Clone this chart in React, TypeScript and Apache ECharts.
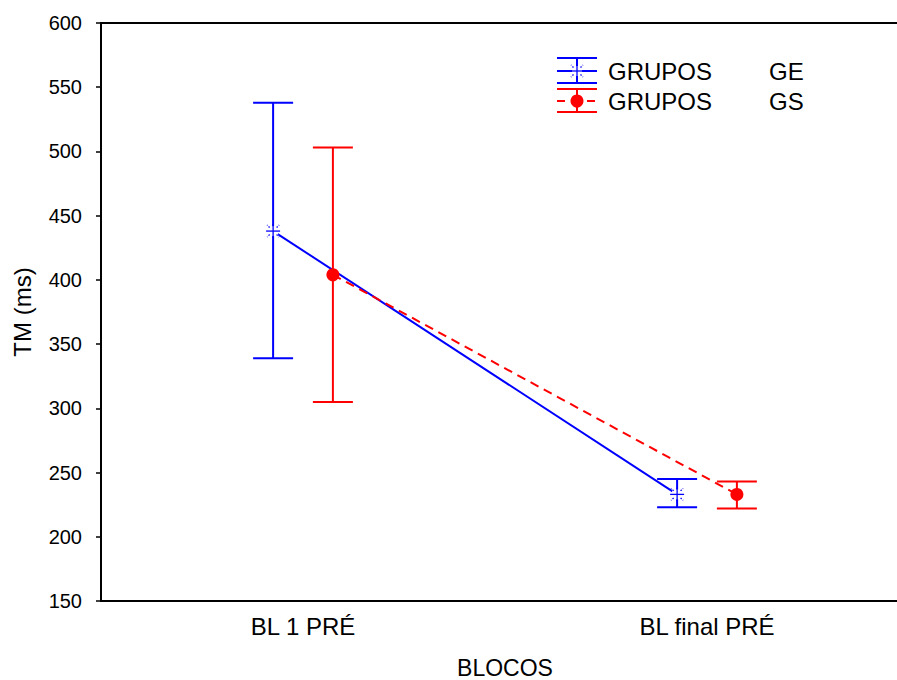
import React, { useEffect, useRef } from "react";
import * as echarts from "echarts";

const categories = ["BL 1 PRÉ", "BL final PRÉ"];
const groupNames = ["GE", "GS"];
// means and error-bar bounds, per block
const geMean = [438, 233];
const geLow = [339, 223];
const geHigh = [538, 245];
const gsMean = [404, 233];
const gsLow = [305, 222];
const gsHigh = [503, 243];
const yTicks = { min: 150, max: 600, step: 50 };
// horizontal offset of each group from the category centre (in category units)
const groupOffset = [-0.074, 0.074];

const FONT = "'Liberation Sans', Arial, sans-serif";
const BLUE = "#0000ff";
const RED = "#ff0000";
const BIG = 24;

function starShape(cx: number, cy: number, color: string) {
  const r = 7;
  const d1 = 3.5;
  const d2 = 6;
  const s = { stroke: color, lineWidth: 1.3 };
  const diag = (sx: number, sy: number) => ({
    type: "line",
    shape: { x1: cx + sx * d1, y1: cy + sy * d1, x2: cx + sx * d2, y2: cy + sy * d2 },
    style: { ...s, lineDash: [1.5, 1.5] },
  });
  return [
    { type: "line", shape: { x1: cx - r, y1: cy, x2: cx + r, y2: cy }, style: s },
    { type: "line", shape: { x1: cx, y1: cy - r, x2: cx, y2: cy + r }, style: s },
    diag(1, 1),
    diag(-1, 1),
    diag(1, -1),
    diag(-1, -1),
  ];
}

function makeErrData(offset: number, mean: number[], low: number[], high: number[]) {
  return mean.map((m, i) => [i + offset, m, low[i], high[i]]);
}

function errRender(color: string, marker: "star" | "dot") {
  return (params: any, api: any) => {
    const x = api.value(0);
    const mid = api.coord([x, api.value(1)]);
    const lo = api.coord([x, api.value(2)]);
    const hi = api.coord([x, api.value(3)]);
    const cx = mid[0];
    const half = 20;
    const st = { stroke: color, lineWidth: 2 };
    const children: any[] = [
      { type: "line", shape: { x1: cx, y1: hi[1], x2: cx, y2: lo[1] }, style: st },
      { type: "line", shape: { x1: cx - half, y1: hi[1], x2: cx + half, y2: hi[1] }, style: st },
      { type: "line", shape: { x1: cx - half, y1: lo[1], x2: cx + half, y2: lo[1] }, style: st },
    ];
    if (marker === "dot") {
      children.push({ type: "circle", shape: { cx, cy: mid[1], r: 6.5 }, style: { fill: color } });
    } else {
      children.push({ type: "rect", shape: { x: cx - 5, y: mid[1] - 5, width: 10, height: 10 }, style: { fill: "#fff" } });
      children.push(...starShape(cx, mid[1], color));
    }
    return { type: "group", children };
  };
}

export default function App() {
  const ref = useRef<HTMLDivElement>(null);
  useEffect(() => {
    if (!ref.current) return;
    const chart = echarts.init(ref.current, null, { renderer: "svg" });
    const lx = 557;
    const txt = (x: number, y: number, text: string) => ({
      type: "text",
      x,
      y,
      style: { text, fontSize: BIG, fontFamily: FONT, fill: "#000", verticalAlign: "middle" },
    });
    const legend: any[] = [
      // GE legend item
      { type: "line", shape: { x1: lx, y1: 58, x2: lx + 40, y2: 58 }, style: { stroke: BLUE, lineWidth: 2 } },
      { type: "line", shape: { x1: lx, y1: 71, x2: lx + 40, y2: 71 }, style: { stroke: BLUE, lineWidth: 2 } },
      { type: "line", shape: { x1: lx, y1: 83, x2: lx + 40, y2: 83 }, style: { stroke: BLUE, lineWidth: 2 } },
      { type: "line", shape: { x1: lx + 20, y1: 58, x2: lx + 20, y2: 83 }, style: { stroke: BLUE, lineWidth: 2 } },
      { type: "rect", shape: { x: lx + 15, y: 66, width: 10, height: 10 }, style: { fill: "#fff" } },
      ...starShape(lx + 20, 71, BLUE),
      txt(608, 71, "GRUPOS"),
      txt(769, 71, groupNames[0]),
      // GS legend item
      { type: "line", shape: { x1: lx, y1: 89, x2: lx + 40, y2: 89 }, style: { stroke: RED, lineWidth: 2 } },
      { type: "line", shape: { x1: lx, y1: 112, x2: lx + 40, y2: 112 }, style: { stroke: RED, lineWidth: 2 } },
      { type: "line", shape: { x1: lx + 20, y1: 89, x2: lx + 20, y2: 112 }, style: { stroke: RED, lineWidth: 2 } },
      { type: "line", shape: { x1: lx, y1: 101, x2: lx + 8, y2: 101 }, style: { stroke: RED, lineWidth: 2 } },
      { type: "line", shape: { x1: lx + 30, y1: 101, x2: lx + 38, y2: 101 }, style: { stroke: RED, lineWidth: 2 } },
      { type: "circle", shape: { cx: lx + 20, cy: 101, r: 6.5 }, style: { fill: RED } },
      txt(608, 101, "GRUPOS"),
      txt(769, 101, groupNames[1]),
    ];
    const option: any = {
      animation: false,
      backgroundColor: "#fff",
      grid: {
        left: 101,
        top: 23,
        bottom: 79,
        right: -12,
        outerBoundsMode: "none",
        containLabel: false,
        show: true,
        borderColor: "#000",
        borderWidth: 2,
        backgroundColor: "transparent",
      },
      xAxis: [
        {
          type: "category",
          data: categories,
          boundaryGap: true,
          axisLine: { show: true, lineStyle: { color: "#000", width: 2 } },
          axisTick: { show: false },
          axisLabel: { color: "#000", fontSize: BIG, fontFamily: FONT, margin: 13 },
          splitLine: { show: false },
          name: "BLOCOS",
          nameLocation: "middle",
          nameGap: 55,
          nameTextStyle: { color: "#000", fontSize: 23, fontFamily: FONT, lineHeight: 23 },
        },
        { type: "value", min: -0.5, max: 1.5, show: false, splitLine: { show: false } },
      ],
      yAxis: {
        type: "value",
        min: yTicks.min,
        max: yTicks.max,
        interval: yTicks.step,
        axisLine: { show: true, onZero: false, lineStyle: { color: "#000", width: 2 } },
        axisTick: { show: true, length: 5, lineStyle: { color: "#000", width: 1.5 } },
        axisLabel: { color: "#000", fontSize: 20, fontFamily: FONT, margin: 19 },
        splitLine: { show: false },
        name: "TM (ms)",
        nameLocation: "middle",
        nameGap: 67,
        nameTextStyle: { color: "#000", fontSize: BIG, fontFamily: FONT },
      },
      series: [
        {
          name: "GRUPOS GE",
          type: "line",
          xAxisIndex: 1,
          data: geMean.map((m, i) => [i + groupOffset[0], m]),
          symbol: "none",
          lineStyle: { color: BLUE, width: 2 },
          z: 2,
        },
        {
          name: "GRUPOS GS",
          type: "line",
          xAxisIndex: 1,
          data: gsMean.map((m, i) => [i + groupOffset[1], m]),
          symbol: "none",
          lineStyle: { color: RED, width: 2, type: [9, 6] },
          z: 2,
        },
        {
          type: "custom",
          xAxisIndex: 1,
          data: makeErrData(groupOffset[0], geMean, geLow, geHigh),
          renderItem: errRender(BLUE, "star"),
          z: 3,
        },
        {
          type: "custom",
          xAxisIndex: 1,
          data: makeErrData(groupOffset[1], gsMean, gsLow, gsHigh),
          renderItem: errRender(RED, "dot"),
          z: 3,
        },
      ],
      graphic: legend,
    };
    chart.setOption(option);
    return () => chart.dispose();
  }, []);
  return <div ref={ref} style={{ width: 897, height: 680, position: "absolute", left: 0, top: 0 }} />;
}
